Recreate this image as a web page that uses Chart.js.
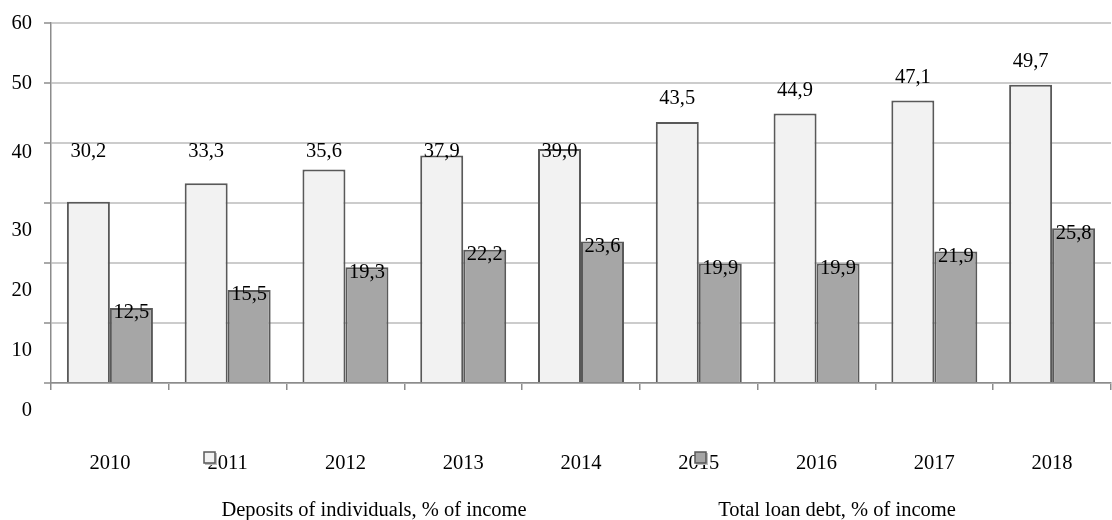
<!DOCTYPE html>
<html>
<head>
<meta charset="utf-8">
<script src="https://cdn.jsdelivr.net/npm/chart.js@4"></script>
<style>
  body { margin: 0; background: #fff; }
</style>
</head>
<body>
<canvas id="depositsChart" width="1112" height="520"></canvas>
<script>
const years = ['2010', '2011', '2012', '2013', '2014', '2015', '2016', '2017', '2018'];
const deposits = [30.2, 33.3, 35.6, 37.9, 39.0, 43.5, 44.9, 47.1, 49.7];
const loans = [12.5, 15.5, 19.3, 22.2, 23.6, 19.9, 19.9, 21.9, 25.8];
const yTicks = [0, 10, 20, 30, 40, 50, 60];
const seriesNames = ['Deposits of individuals, % of income', 'Total loan debt, % of income'];

const serif = '"Liberation Serif", "Times New Roman", serif';
const fontSize = 20.5;
const font = fontSize + 'px ' + serif;
const lightFill = '#f2f2f2';
const darkFill = '#a6a6a6';
const edge = '#595959';
const axisColor = '#8c8c8c';

function fmt(v) {
  return v.toFixed(1).replace('.', ',');
}

// value labels, y axis numbers and the legend are drawn by hand
const extrasPlugin = {
  id: 'extras',
  afterDraw(chart) {
    const ctx = chart.ctx;
    const y = chart.scales.y;
    ctx.save();
    ctx.font = font;
    ctx.fillStyle = '#000';
    ctx.textBaseline = 'middle';

    // y axis numbers
    ctx.textAlign = 'right';
    yTicks.forEach(v => {
      let shift = 1;
      if (v == 40) shift = 10;
      if (v < 40) shift = 28;
      ctx.fillText(String(v), 32, y.getPixelForValue(v) + shift);
    });

    // values over the bars
    ctx.textAlign = 'center';
    chart.getDatasetMeta(0).data.forEach((bar, i) => {
      const ty = i < 5 ? y.getPixelForValue(38.5) : bar.y - 23;
      ctx.fillText(fmt(deposits[i]), bar.x, ty);
    });
    chart.getDatasetMeta(1).data.forEach((bar, i) => {
      ctx.fillText(fmt(loans[i]), bar.x, bar.y + 5);
    });

    // legend
    ctx.fillText(seriesNames[0], 374, 511);
    ctx.fillText(seriesNames[1], 837, 511);
    const boxes = [[204, 452, lightFill], [695, 452, darkFill]];
    boxes.forEach(b => {
      ctx.fillStyle = '#bdbdbd';
      ctx.fillRect(b[0] + 1, b[1] + 1, 12, 12);
      ctx.fillStyle = b[2];
      ctx.fillRect(b[0], b[1], 11, 11);
      ctx.strokeStyle = edge;
      ctx.lineWidth = 1.5;
      ctx.strokeRect(b[0], b[1], 11, 11);
    });
    ctx.restore();
  }
};

const ctx = document.getElementById('depositsChart').getContext('2d');
const depositsChart = new Chart(ctx, {
  type: 'bar',
  data: {
    labels: years,
    datasets: [{
      label: seriesNames[0],
      data: deposits,
      backgroundColor: lightFill,
      borderColor: edge,
      borderWidth: 2,
      categoryPercentage: 0.73,
      barPercentage: 1
    }, {
      label: seriesNames[1],
      data: loans,
      backgroundColor: darkFill,
      borderColor: edge,
      borderWidth: 2,
      categoryPercentage: 0.73,
      barPercentage: 1
    }]
  },
  options: {
    responsive: false,
    animation: false,
    layout: { padding: { top: 23, right: 1, left: 0, bottom: 0 } },
    plugins: {
      legend: { display: false },
      tooltip: { enabled: false }
    },
    scales: {
      x: {
        afterFit(scale) {
          scale.height = 137;
          scale.paddingLeft = 0;
          scale.paddingRight = 0;
        },
        grid: {
          drawOnChartArea: false,
          tickLength: 7,
          color: axisColor,
          lineWidth: 1.5
        },
        border: { color: axisColor, width: 1.5 },
        ticks: {
          color: '#000',
          font: { family: serif, size: fontSize },
          padding: 61,
          maxRotation: 0
        }
      },
      y: {
        min: 0,
        max: 60,
        afterFit(scale) { scale.width = 51; },
        grid: {
          color: '#cccccc',
          lineWidth: 2,
          tickLength: 7,
          tickColor: axisColor,
          tickWidth: 1.5
        },
        border: { color: axisColor, width: 1.5 },
        ticks: { stepSize: 10, display: false }
      }
    }
  },
  plugins: [extrasPlugin]
});
</script>
</body>
</html>
